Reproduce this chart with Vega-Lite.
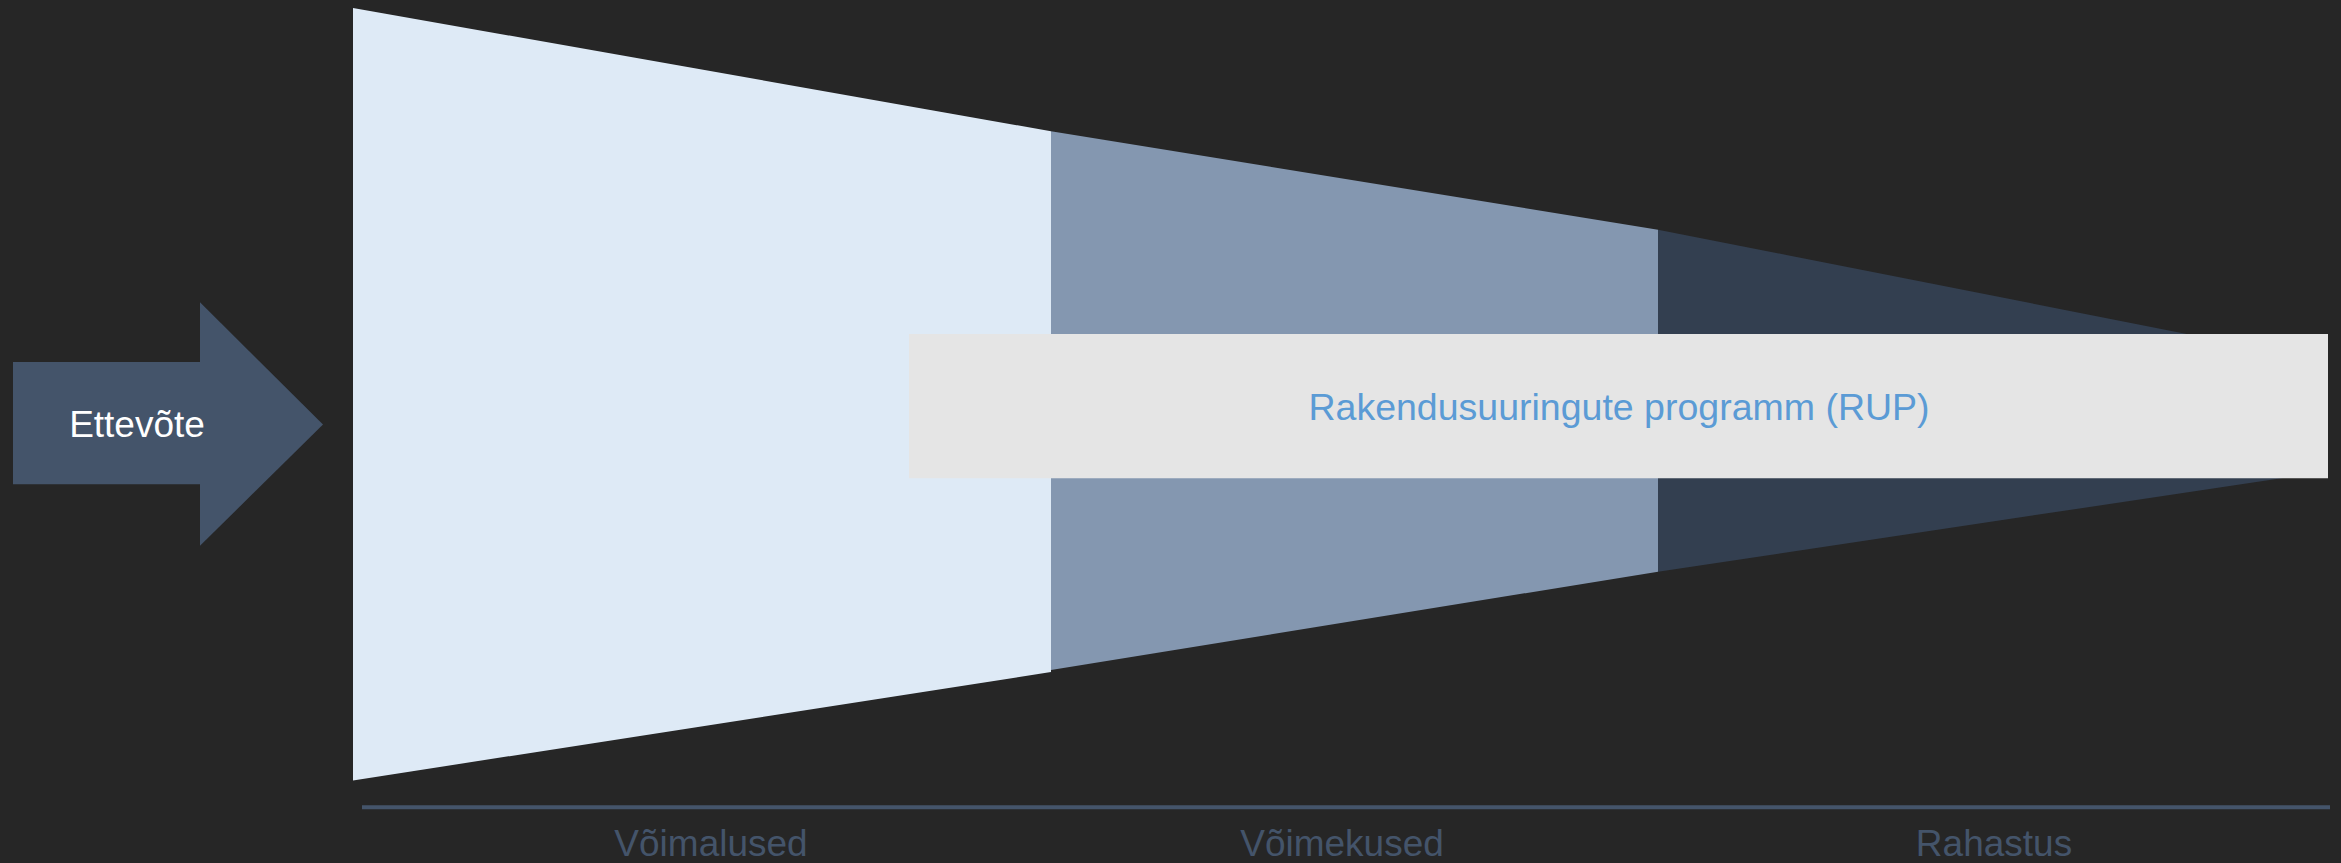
{
  "$schema": "https://vega.github.io/schema/vega-lite/v6.json",
  "autosize": {"type": "fit", "contains": "padding"},
  "width": 2341,
  "height": 863,
  "padding": 0,
  "background": "#262626",
  "view": {"stroke": null},
  "datasets": {
    "areas": [
      {"shape": "Võimalused", "x": 353, "top": 8, "bottom": 785},
      {"shape": "Võimalused", "x": 1051, "top": 132, "bottom": 676},
      {"shape": "Võimekused", "x": 1051, "top": 132, "bottom": 674},
      {"shape": "Võimekused", "x": 1658, "top": 231, "bottom": 575},
      {"shape": "Rahastus", "x": 1658, "top": 231, "bottom": 575},
      {"shape": "Rahastus", "x": 2328, "top": 364, "bottom": 474},
      {"shape": "Nool", "x": 200, "top": 304, "bottom": 549},
      {"shape": "Nool", "x": 323, "top": 427, "bottom": 427}
    ],
    "rects": [
      {"shape": "Nool", "x": 13, "x2": 201, "top": 364, "bottom": 487},
      {"shape": "RUP", "x": 909, "x2": 2328, "top": 336, "bottom": 481}
    ],
    "axis": [
      {"x": 362, "x2": 2330, "y": 812}
    ],
    "labels": [
      {"kind": "arrow", "text": "Ettevõte", "x": 137, "y": 440},
      {"kind": "box", "text": "Rakendusuuringute programm (RUP)", "x": 1619, "y": 422},
      {"kind": "stage", "text": "Võimalused", "x": 711, "y": 861},
      {"kind": "stage", "text": "Võimekused", "x": 1342, "y": 861},
      {"kind": "stage", "text": "Rahastus", "x": 1994, "y": 861}
    ]
  },
  "encoding": {},
  "layer": [
    {
      "data": {"name": "areas"},
      "mark": {"type": "area", "interpolate": "linear", "strokeWidth": 0},
      "encoding": {
        "x": {"field": "x", "type": "quantitative", "scale": {"domain": [0, 2341], "nice": false, "zero": false}, "axis": null},
        "y": {"field": "top", "type": "quantitative", "stack": null, "scale": {"domain": [0, 863], "nice": false, "zero": false, "reverse": true}, "axis": null},
        "y2": {"field": "bottom"},
        "color": {
          "field": "shape", "type": "nominal", "legend": null,
          "scale": {"domain": ["Võimalused", "Võimekused", "Rahastus", "Nool", "RUP"], "range": ["#deeaf6", "#8497b0", "#333f50", "#44546a", "#e5e5e5"]}
        }
      }
    },
    {
      "data": {"name": "rects"},
      "mark": {"type": "rect", "strokeWidth": 0},
      "encoding": {
        "x": {"field": "x", "type": "quantitative"},
        "x2": {"field": "x2"},
        "y": {"field": "top", "type": "quantitative"},
        "y2": {"field": "bottom"},
        "color": {"field": "shape", "type": "nominal", "legend": null}
      }
    },
    {
      "data": {"name": "axis"},
      "mark": {"type": "rule", "color": "#44546a", "strokeWidth": 4},
      "encoding": {
        "x": {"field": "x", "type": "quantitative"},
        "x2": {"field": "x2"},
        "y": {"field": "y", "type": "quantitative"}
      }
    },
    {
      "data": {"name": "labels"},
      "transform": [{"filter": "datum.kind === 'arrow'"}],
      "mark": {"type": "text", "font": "Liberation Sans", "fontSize": 37, "color": "#ffffff", "align": "center", "baseline": "alphabetic"},
      "encoding": {
        "x": {"field": "x", "type": "quantitative"},
        "y": {"field": "y", "type": "quantitative"},
        "text": {"field": "text"}
      }
    },
    {
      "data": {"name": "labels"},
      "transform": [{"filter": "datum.kind === 'box'"}],
      "mark": {"type": "text", "font": "Liberation Sans", "fontSize": 37.5, "color": "#5b9bd5", "align": "center", "baseline": "alphabetic"},
      "encoding": {
        "x": {"field": "x", "type": "quantitative"},
        "y": {"field": "y", "type": "quantitative"},
        "text": {"field": "text"}
      }
    },
    {
      "data": {"name": "labels"},
      "transform": [{"filter": "datum.kind === 'stage'"}],
      "mark": {"type": "text", "font": "Liberation Sans", "fontSize": 37, "color": "#44546a", "align": "center", "baseline": "alphabetic"},
      "encoding": {
        "x": {"field": "x", "type": "quantitative"},
        "y": {"field": "y", "type": "quantitative"},
        "text": {"field": "text"}
      }
    }
  ]
}
